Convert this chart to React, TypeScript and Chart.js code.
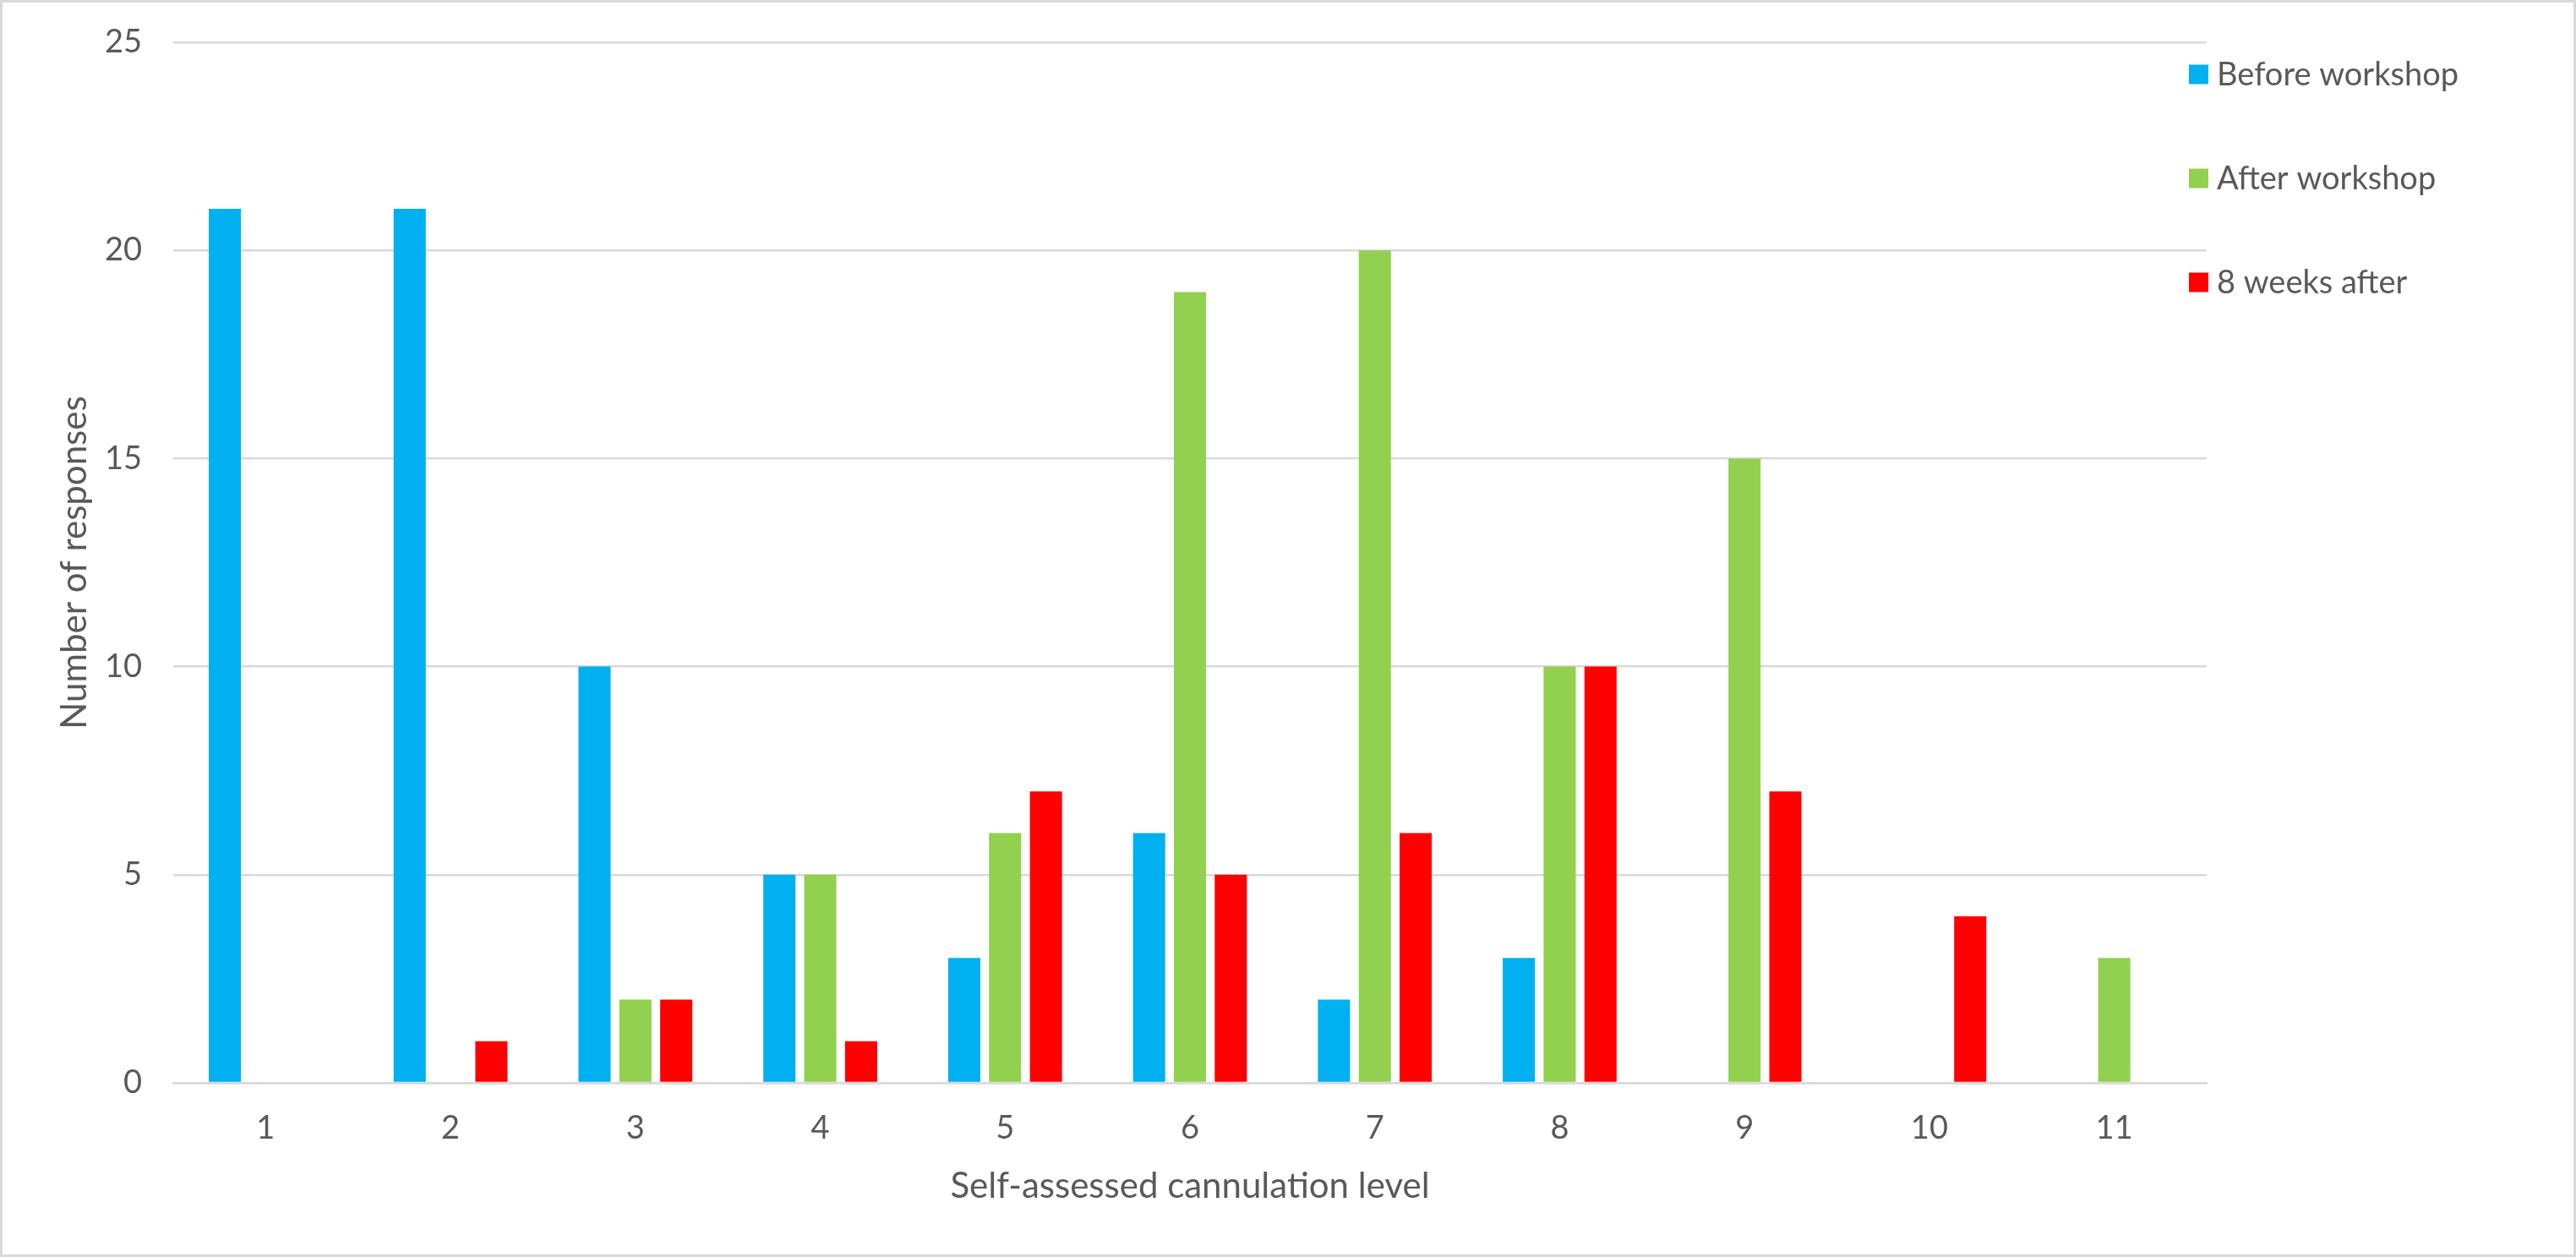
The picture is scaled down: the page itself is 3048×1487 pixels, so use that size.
import { useEffect, useRef } from "react";
import { Chart, registerables } from "chart.js";

Chart.register(...registerables);

const LEVELS = ["1", "2", "3", "4", "5", "6", "7", "8", "9", "10", "11"];
const BEFORE_WORKSHOP = [21, 21, 10, 5, 3, 6, 2, 3, 0, 0, 0];
const AFTER_WORKSHOP = [0, 0, 2, 5, 6, 19, 20, 10, 15, 0, 3];
const EIGHT_WEEKS_AFTER = [0, 1, 2, 1, 7, 5, 6, 10, 7, 4, 0];
const SERIES_NAMES = ["Before workshop", "After workshop", "8 weeks after"];
const SERIES_COLORS = ["#00B0F0", "#92D050", "#FF0000"];
const Y_MAX = 25;
const Y_STEP = 5;

const FONT = "Lato, 'Open Sans', sans-serif";
const TEXT = "#595959";
const GRID = "#D9D9D9";

// legend drawn by hand so it can sit over the right edge of the plot like Excel does
const sideLegend = {
  id: "sideLegend",
  afterDraw(chart: Chart) {
    const { ctx, chartArea } = chart;
    ctx.save();
    ctx.font = `38px ${FONT}`;
    ctx.textBaseline = "middle";
    ctx.textAlign = "left";
    chart.data.datasets.forEach((ds, i) => {
      const y = chartArea.top + 38 + i * 123;
      const x = chartArea.right - 21;
      ctx.fillStyle = ds.backgroundColor as string;
      ctx.fillRect(x, y - 11.5, 23, 23);
      ctx.fillStyle = TEXT;
      ctx.fillText(ds.label ?? "", x + 33, y + 1);
    });
    ctx.restore();
  },
};

export default function App() {
  const canvasRef = useRef<HTMLCanvasElement>(null);

  useEffect(() => {
    if (!canvasRef.current) return;
    const series = [BEFORE_WORKSHOP, AFTER_WORKSHOP, EIGHT_WEEKS_AFTER];
    const chart = new Chart(canvasRef.current, {
      type: "bar",
      data: {
        labels: LEVELS,
        datasets: series.map((values, i) => ({
          label: SERIES_NAMES[i],
          data: values,
          backgroundColor: SERIES_COLORS[i],
          borderWidth: 0,
          categoryPercentage: 0.663,
          barPercentage: 0.787,
        })),
      },
      options: {
        animation: false,
        responsive: true,
        maintainAspectRatio: false,
        layout: { padding: { left: 0, right: 434, top: 47, bottom: 0 } },
        plugins: {
          legend: { display: false },
          tooltip: { enabled: false },
        },
        scales: {
          x: {
            grid: { display: false, drawTicks: false },
            border: { display: true, color: GRID, width: 2.5 },
            ticks: { color: TEXT, font: { family: FONT, size: 38, lineHeight: 1 }, padding: 35 },
            title: {
              display: true,
              text: "Self-assessed cannulation level",
              color: TEXT,
              font: { family: FONT, size: 42, lineHeight: 1 },
              padding: { top: 0, bottom: 60 },
            },
            afterFit: (scale) => {
              scale.height = 203;
            },
          },
          y: {
            min: 0,
            max: Y_MAX,
            grid: { color: GRID, lineWidth: 2.5, drawTicks: false },
            border: { display: false },
            ticks: {
              stepSize: Y_STEP,
              color: TEXT,
              font: { family: FONT, size: 38, lineHeight: 1 },
              padding: 37,
            },
            title: {
              display: true,
              text: "Number of responses",
              color: TEXT,
              font: { family: FONT, size: 42, lineHeight: 1 },
              padding: { top: 64, bottom: 0 },
            },
            afterFit: (scale) => {
              scale.width = 202;
              // tick padding is horizontal here; don't let it push the plot top down
              scale.paddingTop = 20;
              scale.paddingBottom = 20;
            },
          },
        },
      },
      plugins: [sideLegend],
    });
    return () => chart.destroy();
  }, []);

  return (
    <div
      style={{
        position: "fixed",
        left: 0,
        top: 0,
        width: "100vw",
        height: "100vh",
        boxSizing: "border-box",
        border: `3px solid ${GRID}`,
        background: "#fff",
      }}
    >
      <div style={{ position: "relative", width: "100%", height: "100%" }}>
        <canvas ref={canvasRef} />
      </div>
    </div>
  );
}
